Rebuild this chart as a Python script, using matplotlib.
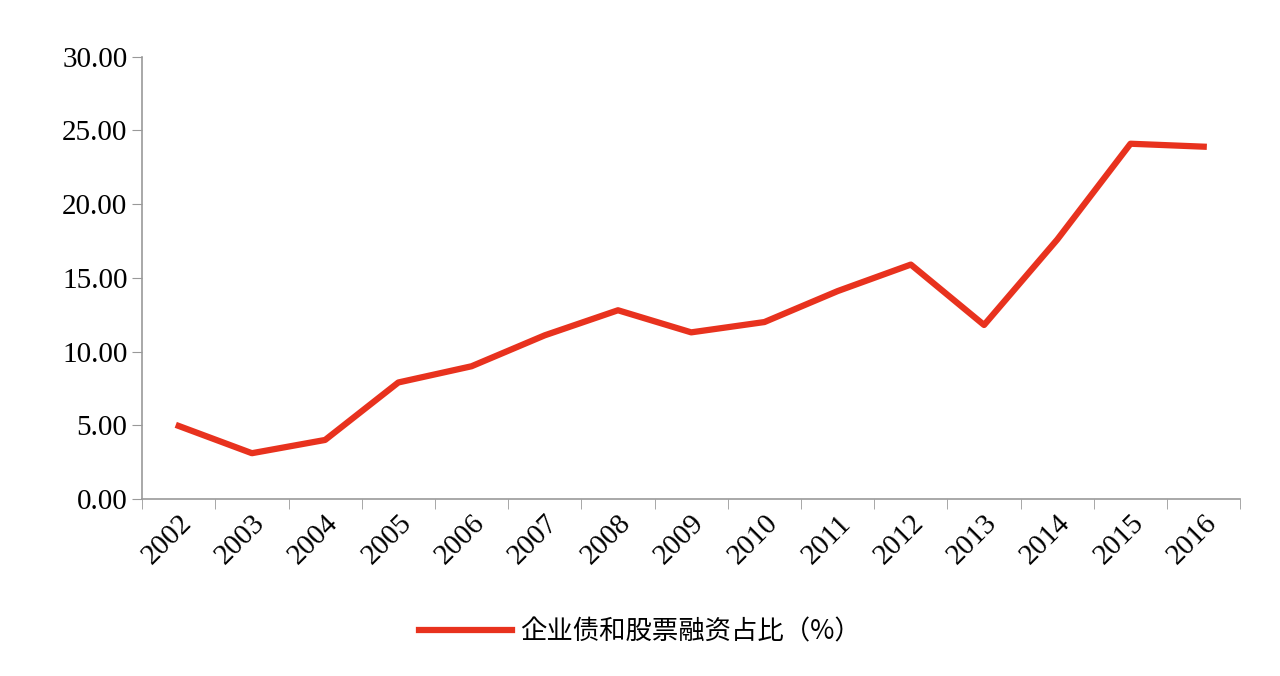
import numpy as np
import matplotlib.pyplot as plt
from matplotlib import font_manager

years = ["2002", "2003", "2004", "2005", "2006", "2007", "2008", "2009",
         "2010", "2011", "2012", "2013", "2014", "2015", "2016"]
share = [4.95, 3.1, 4.0, 7.9, 9.0, 11.1, 12.8, 11.3, 12.0, 14.1, 15.9, 11.8, 17.6, 24.1, 23.9]
series_name = "企业债和股票融资占比（%）"

# pick whichever CJK family is actually registered
available = {f.name for f in font_manager.fontManager.ttflist}
cjk = [n for n in ["Noto Sans CJK SC", "Noto Sans CJK JP", "Noto Sans CJK TC",
                   "Noto Sans CJK KR", "Noto Serif CJK SC"] if n in available]
plt.rcParams["font.family"] = ["Liberation Serif"] + cjk + ["DejaVu Sans"]

fig = plt.figure(figsize=(12.8, 6.76), dpi=100)
ax = fig.add_axes([0.111, 0.262, 0.858, 0.654])

x = np.arange(len(years))
ax.plot(x, share, color="#e8321e", linewidth=4.5, label=series_name)

ax.set_xlim(-0.5, len(years) - 0.5)
ax.set_ylim(0, 30)
ax.set_yticks(np.arange(0, 30.1, 5))
ax.set_yticklabels([f"{v:.2f}" for v in np.arange(0, 30.1, 5)], fontsize=21)

# category labels centered, tick marks on boundaries
ax.set_xticks(x)
ax.set_xticklabels(years, rotation=45, ha="right", rotation_mode="anchor", fontsize=21)
ax.tick_params(axis="x", length=0, pad=8)
ax.set_xticks(np.arange(-0.5, len(years), 1), minor=True)
ax.tick_params(axis="x", which="minor", length=7, direction="out", color="#999999")
ax.tick_params(axis="y", length=7, direction="out", color="#999999")

for s in ["top", "right"]:
    ax.spines[s].set_visible(False)
for s in ["left", "bottom"]:
    ax.spines[s].set_color("#999999")
    ax.spines[s].set_linewidth(1.2)

fig.legend(loc="center", bbox_to_anchor=(0.5, 0.065), frameon=False,
           prop={"family": cjk + ["DejaVu Sans"], "size": 19},
           handlelength=3.5, handletextpad=0.3)

fig.savefig("out.png", dpi=100)
